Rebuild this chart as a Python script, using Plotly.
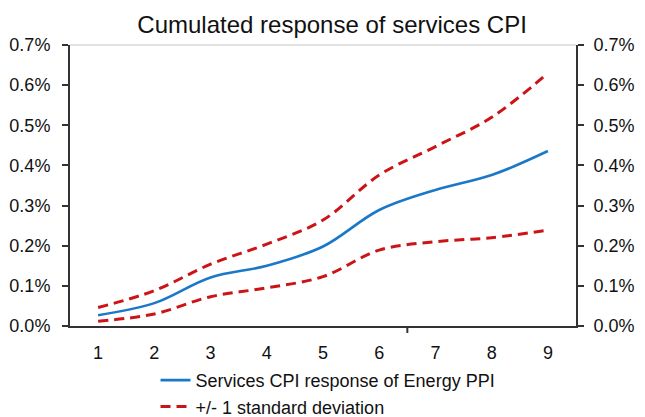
import plotly.graph_objects as go

periods = [1, 2, 3, 4, 5, 6, 7, 8, 9]
response = [0.027, 0.057, 0.121, 0.150, 0.198, 0.289, 0.339, 0.376, 0.436]
upper = [0.046, 0.088, 0.154, 0.204, 0.264, 0.376, 0.447, 0.520, 0.630]
lower = [0.012, 0.030, 0.073, 0.095, 0.123, 0.189, 0.210, 0.220, 0.239]
y_ticks = [0.0, 0.1, 0.2, 0.3, 0.4, 0.5, 0.6, 0.7]
y_labels = ["0.0%", "0.1%", "0.2%", "0.3%", "0.4%", "0.5%", "0.6%", "0.7%"]

BLUE = "#1B78C8"
RED = "#CC1417"
AX = "#333333"
FONT = "Liberation Sans, Arial, sans-serif"

fig = go.Figure()
fig.add_trace(go.Scatter(x=periods, y=response, mode="lines", line=dict(color=BLUE, width=2.6, shape="spline"),
                         name="Services CPI response of Energy PPI"))
fig.add_trace(go.Scatter(x=periods, y=upper, mode="lines", line=dict(color=RED, width=3, dash="10px,6px", shape="spline"),
                         name="+/- 1 standard deviation", legendgroup="sd"))
fig.add_trace(go.Scatter(x=periods, y=lower, mode="lines", line=dict(color=RED, width=3, dash="10px,6px", shape="spline"),
                         name="+/- 1 standard deviation", legendgroup="sd", showlegend=False))
# invisible trace to activate right axis
fig.add_trace(go.Scatter(x=periods, y=response, yaxis="y2", mode="lines", line=dict(width=0), opacity=0,
                         showlegend=False, hoverinfo="skip"))

fig.update_layout(
    width=645, height=417,
    margin=dict(l=70, r=69, t=45, b=91, autoexpand=False),
    paper_bgcolor="white", plot_bgcolor="white",
    font=dict(family=FONT, size=18, color="#111111"),
    title=dict(text="Cumulated response of services CPI", font=dict(size=24, color="#111111"),
               x=0.518, xref="paper", xanchor="center", y=0.94, yref="container", yanchor="middle"),
    showlegend=True,
    legend=dict(x=0.169, y=-0.128, xanchor="left", yanchor="top", orientation="v",
                font=dict(size=18), bgcolor="rgba(0,0,0,0)", tracegroupgap=0),
    xaxis=dict(range=[0.5, 9.5], tickmode="array", tickvals=periods, ticktext=[str(p) for p in periods],
               showgrid=False, zeroline=False, showline=True, linecolor=AX, linewidth=2,
               ticks="", ticklabelstandoff=9, tickfont=dict(size=18), automargin=False),
    yaxis=dict(range=[0, 0.7], tickmode="array", tickvals=y_ticks, ticktext=y_labels,
               showgrid=False, zeroline=False, showline=True, linecolor=AX, linewidth=2,
               ticks="outside", ticklen=6, tickwidth=2, tickcolor=AX, ticklabelstandoff=8,
               tickfont=dict(size=18), automargin=False),
    yaxis2=dict(range=[0, 0.7], overlaying="y", side="right", tickmode="array", tickvals=y_ticks, ticktext=y_labels,
                showgrid=False, zeroline=False, showline=True, linecolor=AX, linewidth=2,
                ticks="outside", ticklen=6, tickwidth=2, tickcolor=AX, ticklabelstandoff=6,
                tickfont=dict(size=18), automargin=False),
    shapes=[
        dict(type="line", xref="paper", yref="paper", x0=0, x1=1, y0=1, y1=1, line=dict(color="#D8D8D8", width=1.5)),
        dict(type="line", xref="x", yref="paper", x0=6.5, x1=6.5, y0=0, y1=-0.025, line=dict(color=AX, width=2)),
    ],
)

fig.write_html("out.html", config={"displayModeBar": False},
               post_script="document.body.style.margin='0';document.body.style.padding='0';document.body.style.overflow='hidden';")
